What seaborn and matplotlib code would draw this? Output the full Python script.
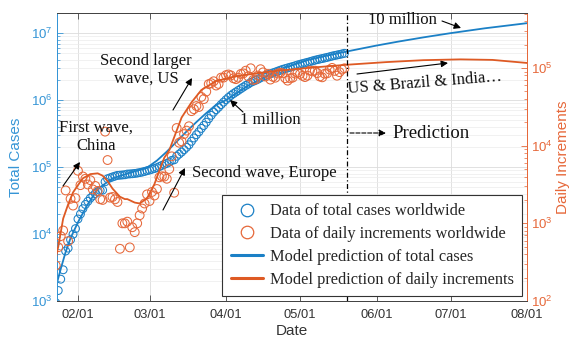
import matplotlib
matplotlib.use("Agg")
import numpy as np
import pandas as pd
import matplotlib.pyplot as plt
import matplotlib.dates as mdates
from matplotlib.lines import Line2D
from matplotlib.ticker import LogLocator, NullFormatter, LogFormatterSciNotation
import seaborn as sns

# ---------------- data ----------------
data_start = "2020-01-23"
data_end = "2020-05-19"

total_cases = [
    941, 1434, 2118, 2927, 5578, 6166, 8234, 9927, 12038,
    16787, 19887, 23898, 27643, 30802, 34395, 37129, 40159, 42768, 44810,
    45228, 60381, 66908, 69052, 71235, 73270, 75152, 75652, 76212, 76841,
    78602, 78982, 79546, 80399, 81376, 82729, 84152, 86011, 88369,
    90306, 92840, 95120, 97886, 101800, 105836, 109835, 113582, 118582, 125865,
    128343, 145193, 156097, 167449, 181531, 197146, 214910, 242708, 272166, 304524,
    335955, 378287, 418045, 467653, 529591, 593291, 660706, 720117, 782365, 857487, 932605,
    1013466, 1095917, 1176060, 1249754, 1321481, 1396476, 1480202, 1565278, 1657526, 1735650,
    1834721, 1904838, 1976191, 2056054, 2152437, 2240190, 2317758, 2401378, 2472259, 2549123,
    2624074, 2708885, 2795735, 2881140, 2955033, 3023722, 3097229, 3172287, 3256846, 3343777,
    3427584, 3506729, 3583055, 3662691, 3755341, 3845718, 3938064, 4024009, 4101699, 4177502,
    4261747, 4347018, 4442163, 4542347, 4634068, 4713620, 4801943, 4897492, 4996472,
]

daily_increments = [
    287, 493, 684, 809, 2651, 588, 2068, 1693, 2111,
    4749, 3100, 4011, 3745, 3159, 3593, 2734, 3030, 2609, 2042,
    2000, 15153, 6527, 2144, 2183, 2035, 1882,
    470, 1000, 1000, 1050, 490, 890, 770, 1000, 1270, 1550, 1800, 2358,
    1937, 2534, 2280, 2766, 3914, 4036, 3999, 3747, 5000, 7283,
    2478, 16850, 10904, 11352, 14082, 15615, 17764, 27798, 29458, 32358,
    31431, 42332, 39758, 49608, 61938, 63700, 67415, 59411, 62248, 75122, 75118,
    80861, 82451, 80143, 73694, 71727, 74995, 83726, 85076, 92248, 78124,
    99071, 70117, 71353, 79863, 96383, 87753, 77568, 83620, 70881, 76864,
    74951, 84811, 86850, 85405, 73893, 68689, 73507, 75058, 84559, 86931,
    83807, 79145, 76326, 79636, 92650, 90377, 92346, 85945, 77690, 75803,
    84245, 85271, 95145, 100184, 91721, 79552, 88323, 95549, 98980,
]

model_total_dates = [
    "2020-01-23", "2020-01-25", "2020-01-27", "2020-01-29", "2020-02-01", "2020-02-05",
    "2020-02-09", "2020-02-15", "2020-02-22", "2020-02-29", "2020-03-04", "2020-03-08",
    "2020-03-12", "2020-03-16", "2020-03-20", "2020-03-24", "2020-03-28", "2020-04-01",
    "2020-04-10", "2020-04-22", "2020-05-04", "2020-05-12", "2020-05-20", "2020-06-01",
    "2020-06-10", "2020-06-20", "2020-07-01", "2020-07-15", "2020-08-01",
]
model_total = [
    1600, 3000, 5400, 8700, 15000, 28000,
    47000, 68000, 82000, 98000, 125000, 170000,
    240000, 340000, 470000, 640000, 850000, 1000000,
    1650000, 2800000, 3950000, 4620000, 5330000, 6530000,
    7500000, 8650000, 10000000, 11830000, 14100000,
]

model_daily_dates = [
    "2020-01-23", "2020-01-24", "2020-01-26", "2020-01-28", "2020-01-30", "2020-02-01",
    "2020-02-03", "2020-02-06", "2020-02-09", "2020-02-11", "2020-02-13", "2020-02-15",
    "2020-02-18", "2020-02-20", "2020-02-21", "2020-02-24", "2020-02-26", "2020-02-29",
    "2020-03-03", "2020-03-05", "2020-03-07", "2020-03-09", "2020-03-14", "2020-03-18",
    "2020-03-22", "2020-03-28", "2020-04-05", "2020-04-14", "2020-04-22", "2020-05-04",
    "2020-05-20", "2020-06-05", "2020-06-20", "2020-07-05", "2020-07-18", "2020-08-01",
]
model_daily = [
    350, 500, 1150, 1750, 2500, 3100,
    3800, 4300, 4400, 4100, 3500, 2800,
    2200, 2050, 2050, 1850, 1800, 2100,
    3200, 4800, 7000, 8700, 23000, 36000,
    52000, 68000, 78000, 86000, 92000, 100000,
    110000, 119000, 126000, 129000, 127000, 116000,
]

prediction_start = "2020-05-20"

legend_labels = [
    "Data of total cases worldwide",
    "Data of daily increments worldwide",
    "Model prediction of total cases",
    "Model prediction of daily increments",
]

# ---------------- style ----------------
sns.set_theme(style="white")
plt.rcParams["font.family"] = ["Liberation Sans", "DejaVu Sans"]
plt.rcParams["mathtext.fontset"] = "custom"
plt.rcParams["mathtext.rm"] = "Liberation Sans"
plt.rcParams["mathtext.it"] = "Liberation Sans:italic"
SERIF = ["Liberation Serif", "DejaVu Serif"]

BLUE = "#1b80c6"
BLUE_T = "#3595d6"
ORANGE = "#de5a24"
ORANGE_T = "#e6683a"
GRAY = "#444444"

W, H = 581, 339
fig = plt.figure(figsize=(W / 100, H / 100), dpi=100)
ax = fig.add_axes([57 / W, 1 - 301 / H, 470 / W, 288 / H])
ax2 = ax.twinx()

d_dates = pd.date_range(data_start, data_end, freq="D")
df_data = pd.DataFrame({"date": d_dates, "total": total_cases, "daily": daily_increments})
df_mt = pd.DataFrame({"date": pd.to_datetime(model_total_dates), "value": model_total})
df_md = pd.DataFrame({"date": pd.to_datetime(model_daily_dates), "value": model_daily})

ax.set_yscale("log")
ax2.set_yscale("log")

sns.scatterplot(data=df_data, x="date", y="total", ax=ax, marker="o", s=32,
                facecolor="none", edgecolor=BLUE, linewidth=0.75, zorder=3)
sns.lineplot(data=df_mt, x="date", y="value", ax=ax, color=BLUE, lw=1.3, zorder=4)

sns.scatterplot(data=df_data, x="date", y="daily", ax=ax2, marker="o", s=40,
                facecolor="none", edgecolor=ORANGE_T, linewidth=0.75, zorder=3)
sns.lineplot(data=df_md, x="date", y="value", ax=ax2, color=ORANGE, lw=1.3, zorder=4)

ax.set_xlim(pd.Timestamp("2020-01-23 12:00"), pd.Timestamp("2020-08-01"))
ax.set_ylim(1e3, 2e7)
ax2.set_ylim(1e2, 5.1e5)

# ticks
ax.xaxis.set_major_locator(mdates.MonthLocator())
ax.xaxis.set_major_formatter(mdates.DateFormatter("%m/%d"))
for a in (ax, ax2):
    a.yaxis.set_major_locator(LogLocator(base=10, numticks=10))
    a.yaxis.set_minor_locator(LogLocator(base=10, subs=np.arange(2, 10), numticks=20))
    a.yaxis.set_minor_formatter(NullFormatter())
    a.yaxis.set_major_formatter(LogFormatterSciNotation())

ax.tick_params(axis="x", which="both", direction="in", top=True, bottom=True,
               length=4, width=0.6, colors=GRAY, labelsize=9.3, labelcolor="#333333", pad=6)
ax.tick_params(axis="y", which="major", direction="in", length=4, width=0.6,
               color=BLUE_T, labelcolor=BLUE_T, labelsize=9.5, pad=3, right=False)
ax.tick_params(axis="y", which="minor", direction="in", length=2.2, width=0.5,
               color=BLUE_T, right=False)
ax2.tick_params(axis="y", which="major", direction="in", length=4, width=0.6,
                color=ORANGE_T, labelcolor=ORANGE_T, labelsize=9.5, pad=3)
ax2.tick_params(axis="y", which="minor", direction="in", length=2.2, width=0.5,
                color=ORANGE_T)

# grid
ax.grid(True, which="major", axis="both", color="#dcdcdc", lw=0.6)
ax.grid(True, which="minor", axis="y", color="#ececec", lw=0.5)
ax.set_axisbelow(True)

# spines
for a in (ax, ax2):
    a.spines["top"].set_color(GRAY)
    a.spines["bottom"].set_color(GRAY)
    a.spines["left"].set_color(BLUE_T)
    a.spines["right"].set_color(ORANGE_T)
    for s in a.spines.values():
        s.set_linewidth(0.7)

ax.set_xlabel("Date", fontsize=11, color="#333333", labelpad=2)
ax.set_ylabel("Total Cases", fontsize=11, color=BLUE_T, labelpad=6)
ax2.set_ylabel("Daily Increments", fontsize=11, color=ORANGE_T, labelpad=2)

# prediction line
ax2.axvline(pd.Timestamp(prediction_start), color="black", lw=0.9,
            dashes=(4, 2, 1, 2), zorder=5)

# ---------------- annotations ----------------
def P(x, y):
    return (x / W, 1 - y / H)

def arrow(xy_from, xy_to, ls="-"):
    ax2.annotate("", xy=P(*xy_to), xytext=P(*xy_from),
                 xycoords="figure fraction", textcoords="figure fraction",
                 arrowprops=dict(arrowstyle="-|>", color="black", lw=0.8, ls=ls,
                                 mutation_scale=10, shrinkA=0, shrinkB=0))

def label(xy, s, size=12, rot=0):
    fig.text(*P(*xy), s, ha="center", va="center", fontsize=size, family=SERIF,
             color="#111111", rotation=rot, linespacing=1.15)

label((402, 20), "10 million")
arrow((442, 21), (461, 28))
label((425, 83), "US & Brazil & India…", rot=4.5)
arrow((357, 74), (448, 63))
label((431, 134), "Prediction", size=13.5)
arrow((350, 133), (386, 133), ls="--")
label((146, 70), "Second larger\nwave, US")
arrow((173, 110), (192, 78))
label((96, 137), "First wave,\nChina")
arrow((63, 186), (80, 162))
label((270, 120), "1 million")
arrow((243, 112), (230, 100))
label((264, 173), "Second wave, Europe")
arrow((163, 210), (185, 168))

# ---------------- legend ----------------
handles = [
    Line2D([], [], ls="none", marker="o", markersize=9, markerfacecolor="none",
           markeredgecolor=BLUE, markeredgewidth=0.9),
    Line2D([], [], ls="none", marker="o", markersize=9, markerfacecolor="none",
           markeredgecolor=ORANGE_T, markeredgewidth=0.9),
    Line2D([], [], color=BLUE, lw=2.2),
    Line2D([], [], color=ORANGE, lw=2.2),
]
leg = ax2.legend(handles, legend_labels, loc="lower right",
                 bbox_to_anchor=(1.0, 0.0),
                 prop={"family": SERIF, "size": 11.8}, frameon=True, fancybox=False,
                 framealpha=1, edgecolor="#333333", borderaxespad=0.3,
                 handlelength=2.0, handletextpad=0.4, labelspacing=0.42,
                 borderpad=0.5)
leg.get_frame().set_linewidth(0.8)
leg.set_zorder(10)

fig.savefig("out.png", dpi=100)
